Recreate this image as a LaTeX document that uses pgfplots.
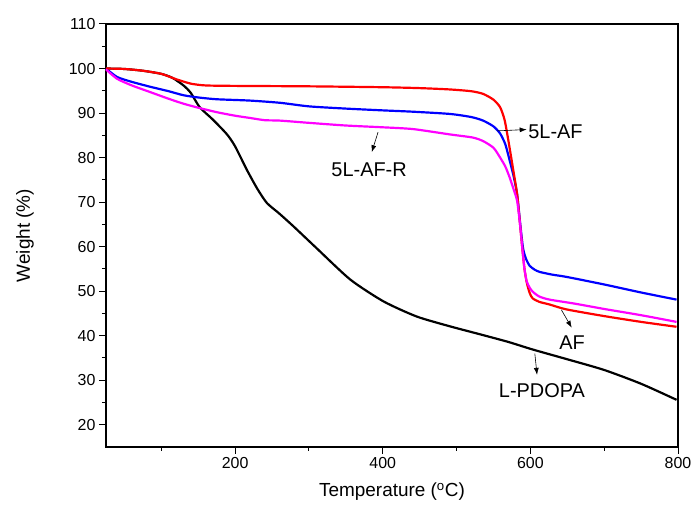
\documentclass[border=0pt]{standalone}
\usepackage{fontspec}
\setmainfont{Liberation Sans}
\usepackage{pgfplots}
\pgfplotsset{compat=1.18}
\usetikzlibrary{arrows.meta}
\definecolor{cmag}{RGB}{255,0,255}
\definecolor{cred}{RGB}{255,0,0}
\definecolor{cblue}{RGB}{0,0,255}

\pgfplotstableread{
x y
25 100
50 99.9
75 99.5
100 98.8
120 97.6
140 96.6
160 96.2
200 96.1
300 96.0
400 95.8
450 95.6
491 95.3
520 94.9
536 94.3
550 93.0
559 91.3
565 88.5
570 84
576 78
582 71.8
586 65
589 59.7
592 55
595 52
599 49.6
603 48.4
612 47.6
626 47.0
649 45.9
700 44.4
750 43.1
798 42.0
}\af

\pgfplotstableread{
x y
25 100
40 98.1
60 97.0
85 95.9
110 94.9
130 94.0
150 93.5
175 93.1
220 92.8
261 92.3
300 91.5
350 91.0
400 90.6
441 90.3
491 89.8
520 89.1
536 88.3
550 87.0
559 85.4
566 83
572 79.3
577 76
582 71.8
586 65.5
590 59.7
594 57.3
599 55.7
606 54.8
613 54.3
630 53.7
649 53.2
700 51.5
750 49.7
798 48.1
}\lafive

\pgfplotstableread{
x y
25 99.8
40 97.7
60 96.2
85 94.7
110 93.2
130 92.1
150 91.2
175 90.2
200 89.4
220 88.9
240 88.4
261 88.3
300 87.8
350 87.2
400 86.8
441 86.4
491 85.2
522 84.5
536 83.7
550 82.2
559 80.0
566 78
572 75.5
577 73
582 70.3
586 65
589 59.7
592 55
595 52.2
599 50.8
603 49.9
612 48.8
626 48.1
660 47.2
700 46.0
750 44.6
798 43.1
}\lafiver

\pgfplotstableread{
x y
25 100
50 99.9
75 99.5
100 98.8
115 97.9
130 96.2
140 94.5
152 91.3
170 88.5
189 85.2
200 82.5
216 77.2
230 73
243 69.8
260 67.4
280 64.4
310 59.7
356 52.6
401 47.7
446 44.3
491 42.1
532 40.3
570 38.6
603 36.9
650 34.7
700 32.3
750 29.2
798 25.6
}\lpdopa

\begin{document}
\begin{tikzpicture}
\path[use as bounding box] (-106bp,-68bp) rectangle (586bp,447bp);
\begin{axis}[
  at={(0,0)}, anchor=south west,
  width=572bp, height=423bp, scale only axis,
  xmin=25, xmax=800, ymin=15, ymax=110,
  xtick={200,400,600,800}, minor xtick={100,300,500,700},
  ytick={20,30,...,110}, minor ytick={25,35,...,105},
  tick pos=left, tick align=outside,
  major tick length=7bp, minor tick length=4bp,
  axis line style={line width=1.1pt},
  every tick/.style={black, line width=1pt},
  ticklabel style={font=\fontsize{16}{16}\selectfont},
  /pgf/number format/assume math mode=true,
  xlabel={Temperature (\textsuperscript{o}C)},
  ylabel={Weight (\%)},
  label style={font=\fontsize{19}{19}\selectfont},
  xlabel style={at={(axis description cs:0.5,-0.1182)}, anchor=base},
  ylabel style={at={(axis description cs:-0.1416,0.5)}, anchor=center},
  clip=false,
  every axis plot/.append style={line width=2.2pt, no markers, smooth, tension=0.4},
]
\addplot[black] table {\lpdopa};
\addplot[cblue] table {\lafive};
\addplot[cred] table {\af};
\addplot[cmag] table {\lafiver};

\begin{scope}[font=\fontsize{20}{20}\selectfont]
\draw[-{Latex[length=7bp,width=5bp]}, line width=0.6pt] (axis cs:555,86) -- (axis cs:595,86.3);
\node[anchor=west, inner sep=0pt] at (axis cs:597,85.7) {5L-AF};
\draw[-{Latex[length=7bp,width=5bp]}, line width=0.6pt] (axis cs:393.6,85.7) -- (axis cs:385,81.2);
\node at (axis cs:381.5,77.2) {5L-AF-R};
\draw[-{Latex[length=7bp,width=5bp]}, line width=0.6pt] (axis cs:642,45.8) -- (axis cs:656,41.8);
\node at (axis cs:656.5,38.4) {AF};
\draw[-{Latex[length=7bp,width=5bp]}, line width=0.6pt] (axis cs:606,36.0) -- (axis cs:609,31.2);
\node at (axis cs:615.7,27.7) {L-PDOPA};
\end{scope}
\end{axis}
\end{tikzpicture}
\end{document}
